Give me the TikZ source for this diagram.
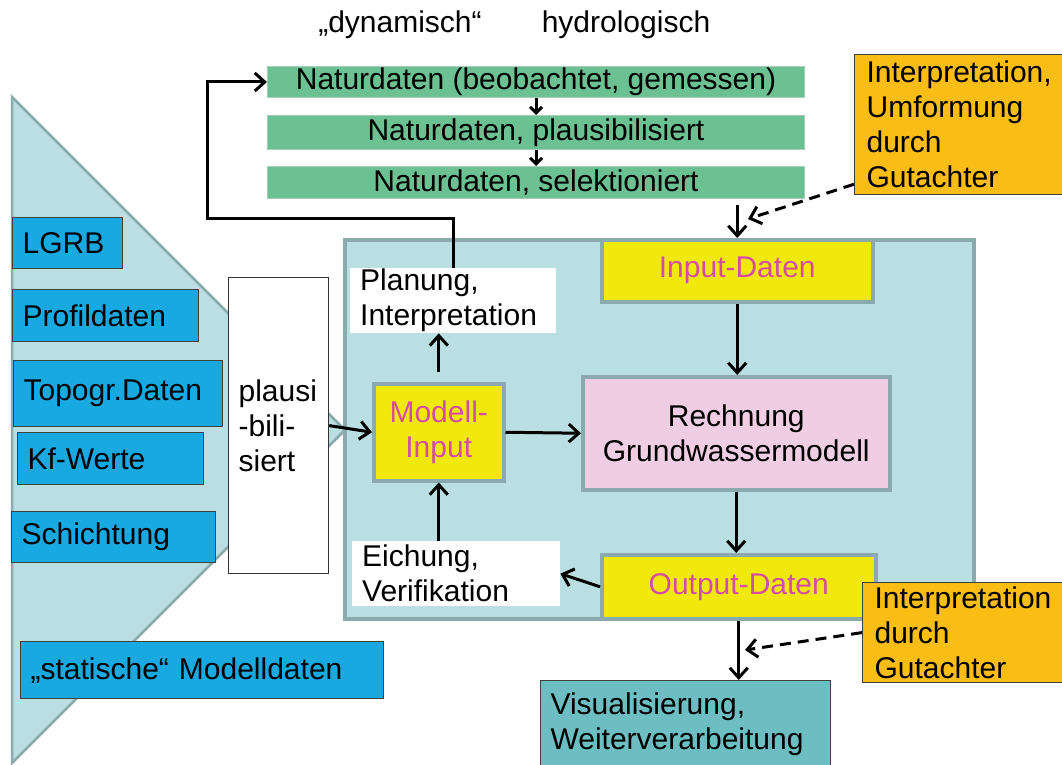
\documentclass[tikz,border=0pt]{standalone}
\usepackage{fontspec}
\setmainfont{Liberation Sans}
\usepackage{xcolor}
\usetikzlibrary{arrows.meta, positioning, calc}
\definecolor{areacyan}{HTML}{BADFE3}
\definecolor{areaedge}{HTML}{8BAAAD}
\definecolor{naturgreen}{HTML}{6CC192}
\definecolor{naturedge}{HTML}{A6CDB6}
\definecolor{datablue}{HTML}{19A9E1}
\definecolor{modelyellow}{HTML}{F1E90E}
\definecolor{calcpink}{HTML}{EFCDE2}
\definecolor{textmagenta}{HTML}{D54DA2}
\definecolor{gutorange}{HTML}{FABD16}
\definecolor{visteal}{HTML}{6DBEC3}
\tikzset{
  basebox/.style={anchor=north west, inner sep=0pt, align=center,
                  font=\fontsize{30}{35}\selectfont},
  leftbox/.style={basebox, align=left, inner xsep=10pt},
  databox/.style={leftbox, draw=black!75, fill=datablue, line width=1.2pt},
  naturbox/.style={basebox, draw=naturedge, fill=naturgreen, line width=1pt},
  modelbox/.style={basebox, draw=areaedge, fill=modelyellow, line width=3.5pt, text=textmagenta},
  calcbox/.style={basebox, draw=areaedge, fill=calcpink, line width=3.5pt},
  gutbox/.style={leftbox, inner xsep=12pt, draw=black!75, fill=gutorange, line width=1.2pt},
  notebox/.style={leftbox, fill=white},
  plainlabel/.style={font=\fontsize{30}{35}\selectfont},
  flowarrow/.style={-{Straight Barb[length=10pt, width=18pt]}, line width=3pt},
  dashedarrow/.style={flowarrow, dash pattern=on 11pt off 7pt}
}
\begin{document}
\begin{tikzpicture}[x=1pt, y=-1pt]
\useasboundingbox (0,0) rectangle (1062,765);

% Triangle of static data
\draw[areaedge, line width=2.5pt, fill=areacyan] (12,97) -- (345,430) -- (12,763) -- cycle;

% Model area (background)
\node[basebox, draw=areaedge, line width=3.5pt, fill=areacyan,
      minimum width=629pt, minimum height=379pt] (area) at (343,238) {};

% Headings
\node[plainlabel] (dyn) at (400,25) {„dynamisch“};
\node[plainlabel] (hydro) at (626,25) {hydrologisch};

% Natural data (top chain)
\node[naturbox, minimum width=537pt, minimum height=31pt] (nat1) at (267,66) {Naturdaten (beobachtet, gemessen)};
\node[naturbox, minimum width=537pt, minimum height=34pt] (nat2) at (267,115) {Naturdaten, plausibilisiert};
\node[naturbox, minimum width=537pt, minimum height=32pt] (nat3) at (267,166) {Naturdaten, selektioniert};

% Static data boxes
\node[databox, text width=90pt, minimum height=51pt] (lgrb) at (12,217) {LGRB};
\node[databox, text width=166pt, minimum height=52pt] (profil) at (12,289) {Profildaten};
\node[databox, text width=189pt, minimum height=66pt] (topo) at (13,360) {Topogr.Daten};
\node[databox, text width=166pt, minimum height=52pt] (kf) at (17,432) {Kf-Werte};
\node[databox, text width=184pt, minimum height=51pt] (schicht) at (11,511) {Schichtung};
\node[databox, text width=343pt, minimum height=57pt] (statisch) at (20,641) {„statische“ Modelldaten};

% Plausibility check
\node[notebox, draw=black!80, line width=1.2pt, text width=80pt, minimum height=296pt] (plausi) at (228,277) {plausi\\-bili-\\siert};

% Model core
\node[modelbox, minimum width=271pt, minimum height=62pt] (inputd) at (600,238) {Input-Daten};
\node[modelbox, minimum width=130pt, minimum height=97pt] (modin) at (372,382) {Modell-\\Input};
\node[calcbox, minimum width=307pt, minimum height=113pt] (calc) at (581,375) {Rechnung\\Grundwassermodell};
\node[modelbox, minimum width=274pt, minimum height=64pt] (outd) at (600,553) {Output-Daten};
\node[notebox, text width=186pt, minimum height=65pt] (plan) at (350,268) {Planung,\\Interpretation};
\node[notebox, text width=188pt, minimum height=65pt] (eich) at (352,541) {Eichung,\\Verifikation};

% Experts and results
\node[gutbox, text width=186pt, minimum height=140pt] (gutA) at (854,54) {Interpretation,\\Umformung\\durch\\Gutachter};
\node[gutbox, text width=178pt, minimum height=100pt] (gutB) at (862,582) {Interpretation\\durch\\Gutachter};
\node[leftbox, draw=black!75, fill=visteal, line width=1.2pt, text width=270pt, minimum height=88pt] (visual) at (540,680) {Visualisierung,\\Weiterverarbeitung};

% Arrows
\coordinate (loopcorner) at (207,218);
\coordinate (dashendA) at (748,219);
\coordinate (dashendB) at (745,650);
\draw[flowarrow, -{Straight Barb[length=6pt, width=12pt]}] (nat1.south) -- (nat2.north);
\draw[flowarrow, -{Straight Barb[length=6pt, width=12pt]}] (nat2.south) -- (nat3.north);
\draw[flowarrow] (plan.north) |- (loopcorner) |- (nat1.west);
\draw[flowarrow, shorten <=6pt] (inputd.north |- nat3.south) -- (inputd.north);
\draw[dashedarrow] ($(gutA.south west)+(0,-11)$) -- (dashendA);
\draw[flowarrow] (inputd.south) -- (inputd.south |- calc.north);
\draw[flowarrow] (plausi.east) -- (modin.west);
\draw[flowarrow] (modin.east) -- (calc.west);
\draw[flowarrow] (modin.north |- 0,372) -- (modin.north |- plan.south);
\draw[flowarrow] (modin.south |- eich.north) -- (modin.south);
\draw[flowarrow] (calc.south) -- (calc.south |- outd.north);
\draw[flowarrow] (outd.west) -- (eich.east);
\draw[flowarrow] (outd.south) -- (outd.south |- visual.north);
\draw[dashedarrow] (gutB.west) -- (dashendB);
\end{tikzpicture}
\end{document}
